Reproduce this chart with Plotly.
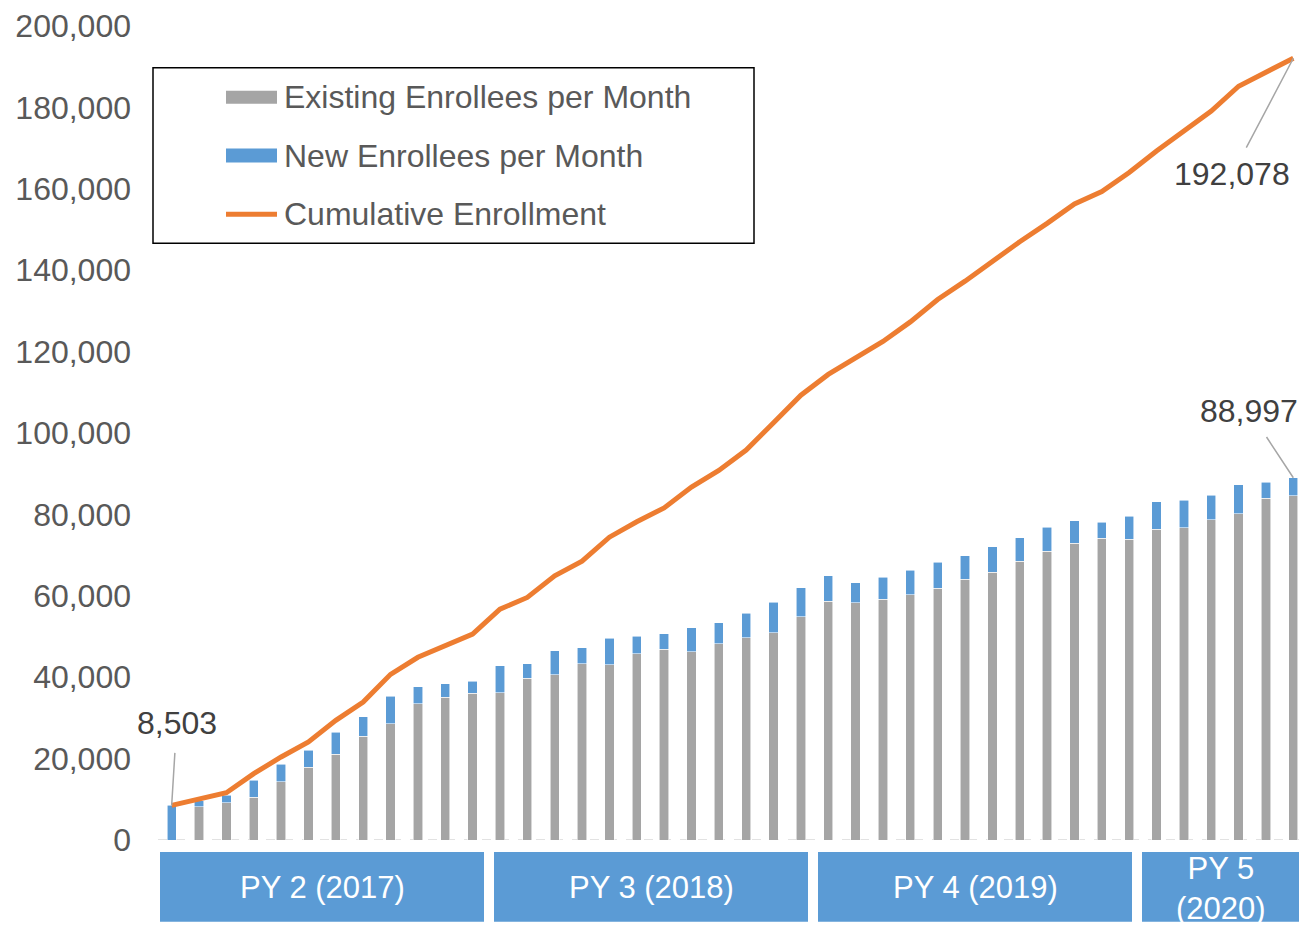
import plotly.graph_objects as go

# ---------------- data ----------------
program_years = ["PY 2 (2017)", "PY 3 (2018)", "PY 4 (2019)", "PY 5<br>(2020)"]
months_per_year = [12, 12, 12, 6]
month_names = ["Jan", "Feb", "Mar", "Apr", "May", "Jun", "Jul", "Aug", "Sep", "Oct", "Nov", "Dec"]
years = [2017, 2018, 2019, 2020]
months = [f"{month_names[m]} {y}" for y, n in zip(years, months_per_year) for m in range(n)]

existing = [0, 8150, 9200, 10450, 14300, 17900, 21050, 25500, 28600, 33500, 35100, 36000,
            36200, 39800, 40600, 43300, 43100, 45800, 46900, 46300, 48200, 49700, 50900, 54800,
            58700, 58300, 59200, 60200, 61900, 64100, 65800, 68500, 71000, 72900, 74200, 73900,
            76300, 76700, 78700, 80200, 84000, 84600]
new = [8503, 1450, 1800, 4250, 4300, 4100, 5450, 4800, 6700, 4100, 3300, 3000,
       6600, 3500, 5900, 3900, 6500, 4300, 3800, 5800, 5200, 6000, 7500, 7200,
       6200, 4900, 5400, 6100, 6400, 5800, 6200, 5800, 5900, 5500, 3900, 5600,
       6800, 6800, 6000, 7100, 3900, 4397]
cumulative = [8503, 9950, 11600, 16300, 20400, 24100, 29400, 33900, 40700, 44900, 47700, 50600,
              56700, 59600, 64900, 68500, 74400, 78200, 81600, 86700, 90800, 95800, 102500, 109300,
              114400, 118500, 122500, 127300, 132800, 137300, 142200, 147000, 151500, 156300, 159300, 164000,
              169300, 174300, 179100, 185200, 188500, 192078]
y_ticks = list(range(0, 200001, 20000))

# ---------------- style ----------------
GRAY = "#A5A5A5"
BLUE = "#5B9BD5"
ORANGE = "#ED7D31"
TXT = "#595959"
FONT = "Liberation Sans, Arial, sans-serif"

OFF = 8  # page body margin offset
W, H = 1307 - OFF, 930 - OFF
L, R, T, B = 158 - OFF, 0, 23 - OFF, 90
PW, PH = W - L - R, H - T - B

# pixel extents (reference page) of the program-year boxes
box_px = [(160, 484), (494, 808), (818, 1132), (1142, 1300)]


def px(x):
    """reference-page pixel x -> paper"""
    return (x - OFF - L) / PW


def py(y):
    """reference-page pixel y -> paper"""
    return (H - B - (y - OFF)) / PH


fig = go.Figure()
fig.add_trace(go.Bar(x=months, y=existing, name="Existing Enrollees per Month",
                     marker=dict(color=GRAY, line=dict(color="rgba(255,255,255,0.7)", width=0.8)),
                     width=0.34, showlegend=False))
fig.add_trace(go.Bar(x=months, y=new, name="New Enrollees per Month",
                     marker=dict(color=BLUE, line=dict(color="rgba(255,255,255,0.7)", width=0.8)),
                     width=0.34, showlegend=False))
fig.add_trace(go.Scatter(x=months, y=cumulative, name="Cumulative Enrollment", mode="lines",
                         line=dict(color=ORANGE, width=5), showlegend=False))

shapes = []
annotations = []

# dashed category axis line
shapes.append(dict(type="line", xref="paper", yref="y", x0=0, x1=1, y0=0, y1=0,
                   line=dict(color="#D9D9D9", width=1.5, dash="dash"), layer="below"))

# program-year boxes under the axis
for lab, (bx0, bx1) in zip(program_years, box_px):
    x0, x1 = px(bx0), px(bx1)
    shapes.append(dict(type="rect", xref="paper", yref="paper", x0=x0, x1=x1,
                       y0=py(922), y1=py(852), fillcolor=BLUE, line=dict(width=0), layer="above"))
    annotations.append(dict(xref="paper", yref="paper", x=(x0 + x1) / 2,
                            y=py(888 if "<br>" not in lab else 889),
                            text=lab, showarrow=False, xanchor="center", yanchor="middle",
                            font=dict(family=FONT, size=31, color="white")))

# manual legend
shapes.append(dict(type="rect", xref="paper", yref="paper", x0=px(153), x1=px(754),
                   y0=py(241), y1=py(65), fillcolor="white", line=dict(color="black", width=1.5),
                   layer="above"))
shapes.append(dict(type="rect", xref="paper", yref="paper", x0=px(226), x1=px(277),
                   y0=py(101), y1=py(88), fillcolor=GRAY, line=dict(width=0), layer="above"))
shapes.append(dict(type="rect", xref="paper", yref="paper", x0=px(226), x1=px(277),
                   y0=py(160), y1=py(146), fillcolor=BLUE, line=dict(width=0), layer="above"))
shapes.append(dict(type="line", xref="paper", yref="paper", x0=px(226), x1=px(277),
                   y0=py(212), y1=py(212), line=dict(color=ORANGE, width=5), layer="above"))
for name, yy in [("Existing Enrollees per Month", 94), ("New Enrollees per Month", 153),
                 ("Cumulative Enrollment", 212)]:
    annotations.append(dict(xref="paper", yref="paper", x=px(282), y=py(yy), text=name,
                            showarrow=False, xanchor="left", yanchor="middle",
                            font=dict(family=FONT, size=32, color=TXT)))

# data callouts
lab_font = dict(family=FONT, size=32, color="#404040")
annotations.append(dict(x=months[0], y=cumulative[0], text=f"{cumulative[0]:,}", showarrow=True,
                        arrowhead=0, arrowwidth=1.5, arrowcolor="#A6A6A6", ax=5, ay=-82,
                        startstandoff=10, font=lab_font))
annotations.append(dict(x=months[-1], y=cumulative[-1], text=f"{cumulative[-1]:,}", showarrow=True,
                        arrowhead=0, arrowwidth=1.5, arrowcolor="#A6A6A6", ax=-61, ay=116,
                        startstandoff=8, font=lab_font))
total_last = existing[-1] + new[-1]
annotations.append(dict(x=months[-1], y=total_last, text=f"{total_last:,}", showarrow=True,
                        arrowhead=0, arrowwidth=1.5, arrowcolor="#A6A6A6", ax=-44, ay=-67,
                        startstandoff=8, font=lab_font))

fig.update_layout(
    width=W, height=H,
    margin=dict(l=L, r=R, t=T, b=B),
    barmode="stack",
    bargap=0.66,
    plot_bgcolor="white", paper_bgcolor="white",
    font=dict(family=FONT, color=TXT),
    shapes=shapes, annotations=annotations,
    showlegend=False,
    xaxis=dict(type="category", showticklabels=False, showgrid=False, zeroline=False,
               showline=False, ticks="", range=[-0.5, len(months) - 0.5]),
    yaxis=dict(range=[0, 200000], tickvals=y_ticks, tickformat=",", showgrid=False,
               zeroline=False, showline=False, ticks="", ticklabelstandoff=26,
               ticklabeloverflow="allow",
               tickfont=dict(family=FONT, size=32, color=TXT)),
)

fig.write_html("out.html")
